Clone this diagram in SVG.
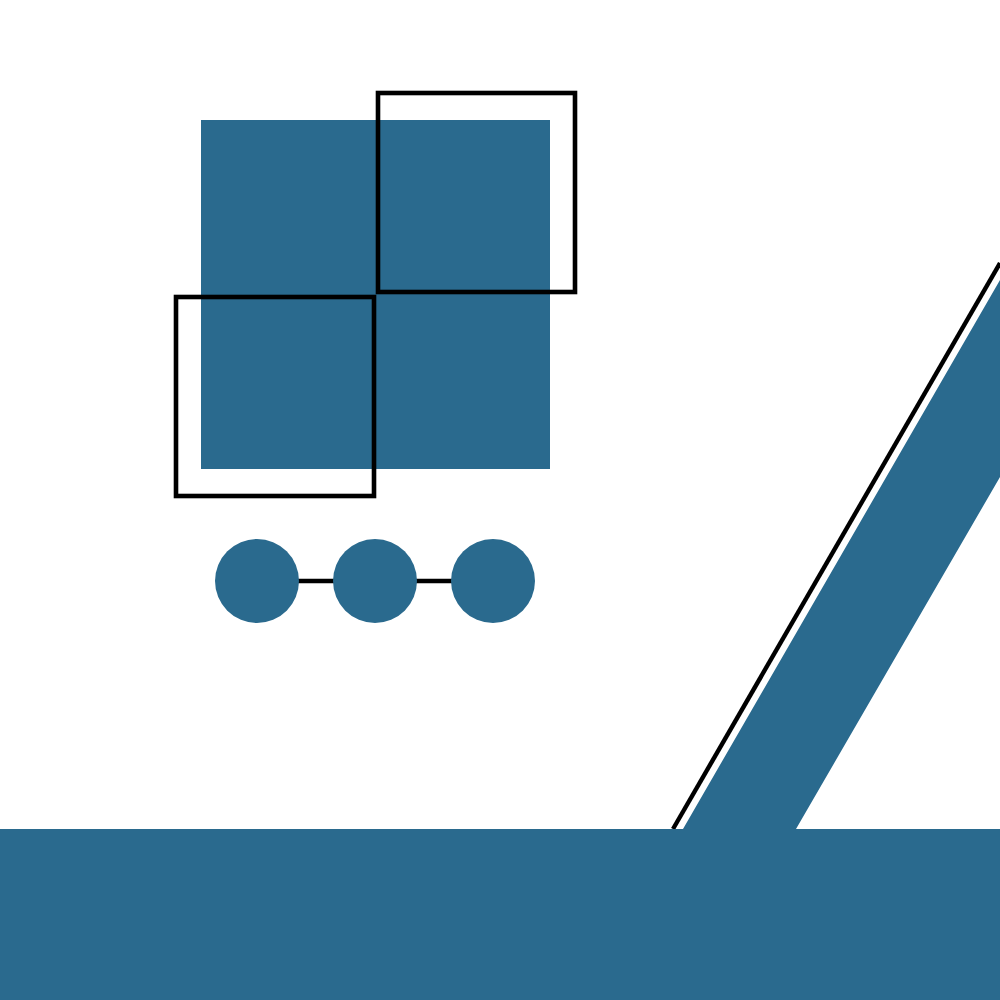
<svg xmlns="http://www.w3.org/2000/svg" width="1000" height="1000" viewBox="0 0 1000 1000">
  <style>
    .fill { fill: #2a6a8e; }
    .outline { fill: none; stroke: #000; stroke-width: 4.6; }
    .link { stroke: #000; stroke-width: 4.4; }
  </style>
  <rect x="0" y="0" width="1000" height="1000" fill="#fff"/>
  <g id="diagonal">
    <polygon class="fill" points="683,829 1000,280 1000,477 796,829 796,1000 683,1000"/>
    <line class="link" x1="673" y1="829" x2="1000" y2="263"/>
  </g>
  <g id="ground">
    <rect class="fill" x="0" y="829" width="1000" height="171"/>
  </g>
  <g id="block">
    <rect class="fill" x="201" y="120" width="349" height="349"/>
  </g>
  <g id="frame-top">
    <rect class="outline" x="378" y="93" width="197" height="199"/>
  </g>
  <g id="frame-bottom">
    <rect class="outline" x="176" y="297" width="198" height="199"/>
  </g>
  <g id="connectors">
    <line class="link" x1="257" y1="581" x2="493" y2="581"/>
  </g>
  <g id="dot-1"><circle class="fill" cx="257" cy="581" r="42"/></g>
  <g id="dot-2"><circle class="fill" cx="375" cy="581" r="42"/></g>
  <g id="dot-3"><circle class="fill" cx="493" cy="581" r="42"/></g>
</svg>
